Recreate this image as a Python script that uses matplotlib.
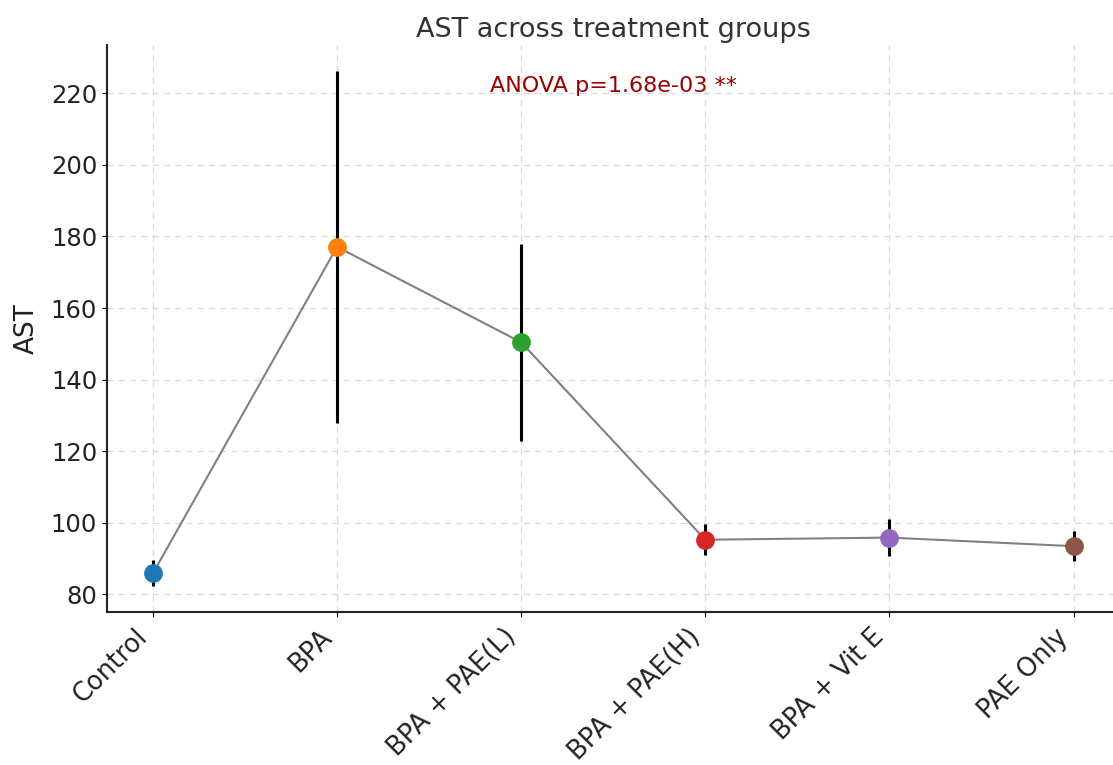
#!/usr/bin/env python3

import numpy as np
import matplotlib.pyplot as plt

groups = ['Control', 'BPA', 'BPA + PAE(L)', 'BPA + PAE(H)', 'BPA + Vit E', 'PAE Only']
means = [85.8, 177.1, 150.4, 95.2, 95.8, 93.4]
sds = [3.6, 49.2, 27.5, 4.3, 5.2, 4.2]
colors = ['#1f77b4', '#ff7f0e', '#2ca02c', '#d62728', '#9467bd', '#8c564b']
anova_text = 'ANOVA p=1.68e-03 **'


def main():
    fig = plt.figure(figsize=(11.13, 7.65), dpi=100)
    ax = fig.add_axes([0.096, 0.2, 0.91, 0.741])
    x = np.arange(len(groups))

    ax.plot(x, means, color='gray', linewidth=1.5, zorder=2)
    for i in range(len(groups)):
        ax.errorbar(x[i], means[i], yerr=sds[i], fmt='o', color=colors[i],
                    ecolor='black', elinewidth=2.2, capsize=0, markersize=12.5, zorder=3)

    ax.set_xticks(x)
    ax.set_xticklabels(groups, rotation=45, ha='right', fontsize=18.5, color='#222222')
    ax.tick_params(axis='x', pad=5)
    ax.tick_params(axis='y', labelsize=17.5, labelcolor='#222222')
    ax.set_ylabel('AST', fontsize=19, color='#222222', labelpad=8)
    ax.set_title('AST across treatment groups', fontsize=19.5, color='#333333', pad=6)
    ax.grid(True, linestyle=(0, (5, 4)), color='#d8d8d8', linewidth=0.9)
    ax.set_axisbelow(True)
    for s in ['top', 'right']:
        ax.spines[s].set_visible(False)
    for s in ['left', 'bottom']:
        ax.spines[s].set_linewidth(1.5)
        ax.spines[s].set_color('#222222')

    ax.text(2.5, 0.928, anova_text, transform=ax.get_xaxis_transform(),
            ha='center', va='center', fontsize=16, color='#990000')

    fig.savefig('out.png', dpi=100)


if __name__ == "__main__":
    main()
